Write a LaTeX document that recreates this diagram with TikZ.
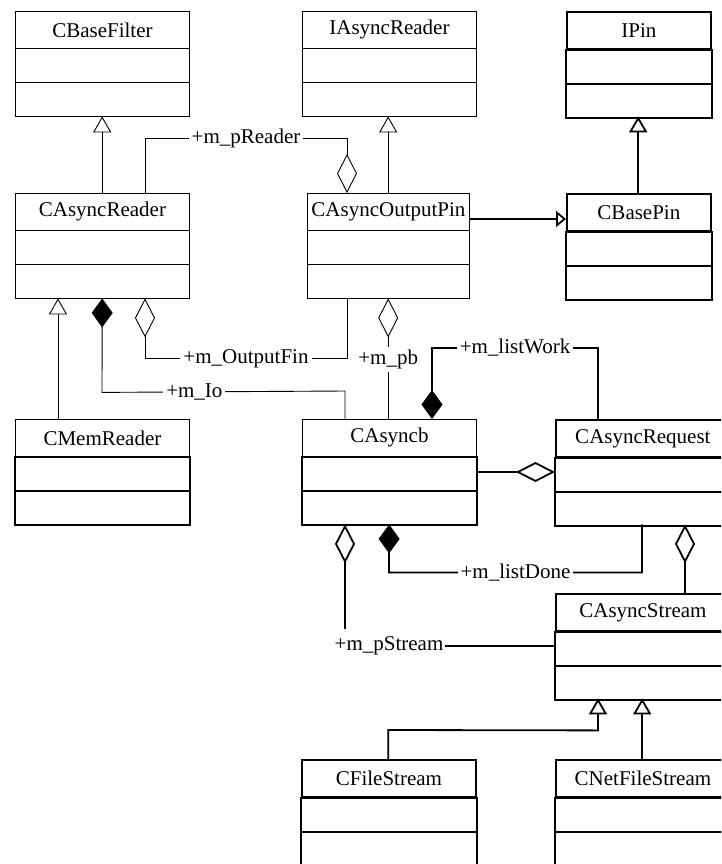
\documentclass[tikz,border=0pt]{standalone}
\usepackage{fontspec}
\setmainfont{Liberation Serif}
\usetikzlibrary{arrows.meta,calc}

\tikzset{
  thinl/.style={line width=0.9pt},
  thickl/.style={line width=1.8pt},
  hdr/.style={draw, inner sep=0pt, minimum height=37pt, font=\fontsize{21}{25}\selectfont},
  lbl/.style={fill=white, inner sep=3pt, font=\fontsize{21}{25}\selectfont},
  gen/.style={-{Triangle[open,length=16pt,width=18pt]}},
  agg/.style={-{Diamond[open,length=39pt,width=20pt]}},
  comp/.style={-{Diamond[length=29pt,width=21pt]}},
}

\newcommand{\umlbox}[7]{%
  \node[inner sep=0pt, minimum width=#4pt, minimum height=105pt, anchor=north west] (#1) at (#2,#3) {};
  \node[hdr, #6, minimum width=#4pt, anchor=north west] (#1h) at (#2,#3) {#5};
  \draw[#7] (#1h.south west) rectangle ($(#1h.south east)+(0,34)$);
  \draw[#7] ($(#1h.south west)+(0,34)$) rectangle ($(#1h.south east)+(0,68)$);
}

\begin{document}
\begin{tikzpicture}[x=1pt,y=-1pt]
\useasboundingbox (0,0) rectangle (721,864);
\clip (0,0) rectangle (721,864);

% classes
\umlbox{cbf}{15}{11}{174}{CBaseFilter}{thinl}{thinl}
\umlbox{iar}{302}{11}{174}{IAsyncReader}{thinl}{thinl}
\umlbox{ipin}{566}{11}{144}{IPin}{thickl}{thickl}
\umlbox{car}{15}{193}{174}{CAsyncReader}{thinl}{thinl}
\umlbox{cap}{307}{193}{162}{CAsyncOutputPin}{thinl}{thinl}
\umlbox{cbp}{566}{193}{144}{CBasePin}{thickl}{thickl}
\umlbox{cmr}{15}{419}{174}{CMemReader}{thinl}{thickl}
\umlbox{cab}{302}{419}{174}{CAsyncb}{thinl}{thickl}
\umlbox{creq}{555}{419}{174}{CAsyncRequest}{thickl}{thickl}
\umlbox{cas}{555}{593}{174}{CAsyncStream}{thickl}{thickl}
\umlbox{cfs}{301}{759}{174}{CFileStream}{thickl}{thickl}
\umlbox{cnfs}{555}{759}{174}{CNetFileStream}{thickl}{thickl}

% generalizations
\draw[thinl, gen] (car.north) -- (cbf.south);
\draw[thinl, gen] (cap.north) -- (cap.north |- iar.south);
\draw[thickl, gen] (cbp.north) -- (ipin.south);
\coordinate (opr) at ($(caph.east)+(0,7)$);
\draw[thickl, -{Triangle[open,length=10pt,width=16pt]}] (opr) -- (opr -| cbp.west);
\draw[thinl, gen] ($(cmr.north west)+(43,0)$) -- ($(car.south west)+(43,0)$);
\draw[thickl, gen] (cfs.north) -- ++(0,-29) -- ($(cas.south west)+(43,32)$) -- ($(cas.south west)+(43,0)$);
\draw[thickl, gen] (cnfs.north) -- (cas.south);

% associations
\draw[thinl, agg] ($(car.north west)+(130,0)$) -- ++(0,-55)
  -- node[lbl]{+m\_pReader} ($(cap.north west)+(40,-55)$) -- ($(cap.north west)+(40,0)$);
\draw[thinl, agg] ($(car.south west)+(130,60)$) -- ($(car.south west)+(130,0)$);
\draw[thinl] ($(car.south west)+(130,60)$)
  -- node[lbl]{+m\_OutputFin} ($(cap.south west)+(40,60)$) -- ($(cap.south west)+(40,0)$);
\draw[thinl, comp] ($(cab.north west)+(43,0)$) -- ++(0,-28)
  -- node[lbl, pos=0.62]{+m\_Io} ($(car.south west)+(87,94)$) -- (car.south);

\node[lbl] (lpb) at ($(cap.south)+(0,61)$) {+m\_pb};
\draw[thinl, agg] (lpb.north) -- (cap.south);
\draw[thinl] (lpb.south) -- (lpb.south |- cab.north);

\draw[thickl, comp] ($(creq.north west)+(43,0)$) -- ++(0,-71)
  -- node[lbl]{+m\_listWork} ($(cab.north west)+(130,-71)$) -- ($(cab.north west)+(130,0)$);
\draw[thickl, agg] (cab.east |- 0,472) -- (creq.west |- 0,472);
\draw[thickl, comp] ($(creq.south west)+(87,0)$) -- ++(0,48)
  -- node[lbl]{+m\_listDone} ($(cab.south west)+(87,48)$) -- (cab.south);
\coordinate (rqa) at ($(creq.south west)+(130,0)$);
\draw[thickl, agg] (rqa |- cas.north) -- (rqa);

\node[lbl, inner sep=1pt] (lps) at (389,646) {+m\_pStream};
\coordinate (psend) at ($(cab.south west)+(43,105)$);
\draw[thickl, agg] (psend) -- ($(cab.south west)+(43,0)$);
\draw[thickl] (lps.east) -- (lps.east -| cas.west);
\end{tikzpicture}
\end{document}
